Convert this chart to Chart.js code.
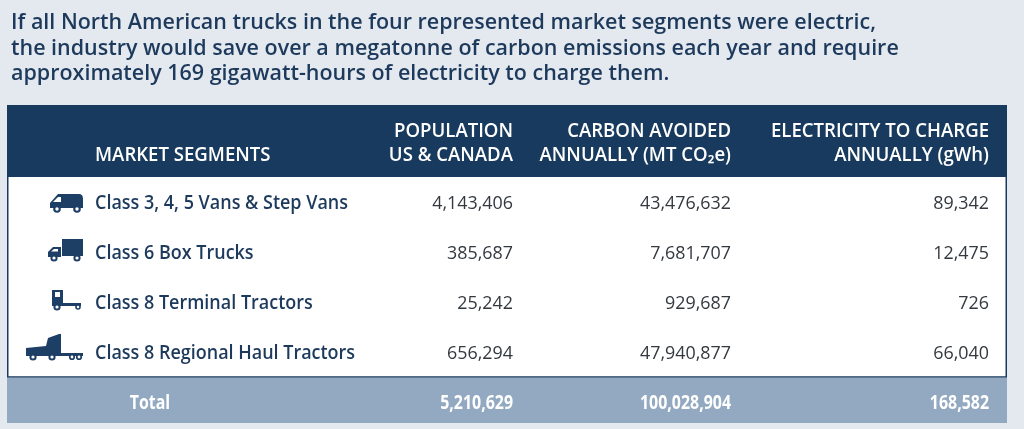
<!DOCTYPE html>
<html>
<head>
<meta charset="utf-8">
<script src="https://cdn.jsdelivr.net/npm/chart.js@4.4.1/dist/chart.umd.min.js"></script>
<style>
  html, body { margin: 0; padding: 0; background: #e4e9ef; }
  canvas { display: block; }
</style>
</head>
<body>
<canvas id="table" width="1024" height="429"></canvas>
<script>
// ---- data ----
const titleLines = [
  "If all North American trucks in the four represented market segments were electric,",
  "the industry would save over a megatonne of carbon emissions each year and require",
  "approximately 169 gigawatt-hours of electricity to charge them."
];
const segments = [
  "Class 3, 4, 5 Vans & Step Vans",
  "Class 6 Box Trucks",
  "Class 8 Terminal Tractors",
  "Class 8 Regional Haul Tractors"
];
const segmentHeader = "MARKET SEGMENTS";
const columnHeaders = [
  ["POPULATION", "US & CANADA"],
  ["CARBON AVOIDED", "ANNUALLY (MT CO\u2082e)"],
  ["ELECTRICITY TO CHARGE", "ANNUALLY (gWh)"]
];
const population = [4143406, 385687, 25242, 656294];
const carbonAvoided = [43476632, 7681707, 929687, 47940877];
const electricity = [89342, 12475, 726, 66040];
const totals = [5210629, 100028904, 168582];
const totalLabel = "Total";

// ---- layout / style ----
const NAVY = "#173a5e";
const TEXT_NAVY = "#1d3a5c";
const NUM_GREY = "#33393f";
const TOTAL_BG = "#93a9c1";
const PAGE_BG = "#e4e9ef";
const ICON = "#1d3f66";
// x scale runs 0..100 across the table; anchors for the text columns
const labelX = 8.8;
const colX = [50.6, 72.4, 98.2];   // right edges of the number columns
const iconRightX = 7.6;
// y scale: body row i is centred on i, header above -0.5, total row centred on 4
const HEAD_TOP = -1.94, BODY_TOP = -0.5, BODY_BOTTOM = 3.5, TABLE_BOTTOM = 4.42;

const FONT = "'Open Sans', 'Noto Sans', sans-serif";
const fonts = {
  title: "600 22px " + FONT,
  head: "600 19px " + FONT,
  label: "600 20px " + FONT,
  num: "400 19px " + FONT,
  total: "700 19px " + FONT
};

// squeeze factors so the wider fallback font matches the picture's widths
const squeeze = {};
function fit(ctx, key, sample, width) {
  ctx.save();
  ctx.font = fonts[key];
  squeeze[key] = width / ctx.measureText(sample).width;
  ctx.restore();
}

function text(ctx, s, x, y, key, color, align) {
  ctx.save();
  ctx.font = fonts[key];
  ctx.fillStyle = color;
  ctx.textBaseline = "alphabetic";
  ctx.textAlign = align;
  ctx.translate(x, y);
  ctx.scale(squeeze[key], 1);
  ctx.fillText(s, 0, 0);
  ctx.restore();
}

function wheel(ctx, x, y, r) {
  ctx.fillStyle = ICON;
  ctx.beginPath(); ctx.arc(x, y, r, 0, Math.PI * 2); ctx.fill();
  ctx.fillStyle = "#ffffff";
  ctx.beginPath(); ctx.arc(x, y, r * 0.45, 0, Math.PI * 2); ctx.fill();
}

// small vehicle pictograms, drawn relative to the icon's right edge and row centre
function drawIcon(ctx, kind, r, c) {
  ctx.save();
  ctx.fillStyle = ICON;
  if (kind === 0) {            // van
    ctx.beginPath();
    ctx.moveTo(r - 33, c + 6);
    ctx.lineTo(r - 33, c + 1);
    ctx.lineTo(r - 25, c - 8);
    ctx.lineTo(r - 4, c - 8);
    ctx.quadraticCurveTo(r, c - 8, r, c - 3);
    ctx.lineTo(r, c + 6);
    ctx.closePath();
    ctx.fill();
    ctx.fillStyle = "#ffffff";
    ctx.beginPath();
    ctx.moveTo(r - 30, c);
    ctx.lineTo(r - 25, c - 5);
    ctx.lineTo(r - 22, c - 5);
    ctx.lineTo(r - 22, c);
    ctx.closePath();
    ctx.fill();
    wheel(ctx, r - 26, c + 7, 3.8);
    wheel(ctx, r - 6, c + 7, 3.8);
  } else if (kind === 1) {     // box truck
    ctx.fillRect(r - 21, c - 13, 21, 17);
    ctx.beginPath();
    ctx.moveTo(r - 22, c + 5);
    ctx.lineTo(r - 35, c + 5);
    ctx.lineTo(r - 35, c);
    ctx.lineTo(r - 30, c - 5);
    ctx.lineTo(r - 22, c - 5);
    ctx.closePath();
    ctx.fill();
    ctx.fillStyle = "#ffffff";
    ctx.beginPath();
    ctx.moveTo(r - 32, c - 0.5);
    ctx.lineTo(r - 29, c - 3);
    ctx.lineTo(r - 25, c - 3);
    ctx.lineTo(r - 25, c - 0.5);
    ctx.closePath();
    ctx.fill();
    wheel(ctx, r - 29, c + 6, 3.6);
    wheel(ctx, r - 6, c + 6, 3.6);
  } else if (kind === 2) {     // terminal tractor
    ctx.fillRect(r - 31, c - 12, 11, 16);
    ctx.fillRect(r - 21, c + 1, 19, 3);
    ctx.fillStyle = "#ffffff";
    ctx.fillRect(r - 28, c - 10, 5, 5);
    wheel(ctx, r - 26, c + 5, 3.6);
    wheel(ctx, r - 5, c + 5, 2.8);
  } else {                     // regional haul tractor
    ctx.beginPath();
    ctx.moveTo(r - 57, c + 4);
    ctx.lineTo(r - 57, c - 4);
    ctx.lineTo(r - 37, c - 6);
    ctx.lineTo(r - 35, c - 14);
    ctx.lineTo(r - 24, c - 18);
    ctx.lineTo(r - 22, c - 18);
    ctx.lineTo(r - 22, c + 1);
    ctx.lineTo(r, c + 1);
    ctx.lineTo(r, c + 4);
    ctx.closePath();
    ctx.fill();
    wheel(ctx, r - 50, c + 5, 3.6);
    wheel(ctx, r - 31, c + 5, 3.6);
    wheel(ctx, r - 11, c + 5, 3.1);
    wheel(ctx, r - 4, c + 5, 3.1);
  }
  ctx.restore();
}

const tablePlugin = {
  id: "tablePlugin",
  beforeDraw(chart) {
    const { ctx, chartArea: a, scales: { x, y } } = chart;
    fit(ctx, "title", titleLines[0], 865);
    fit(ctx, "head", columnHeaders[2][0], 218);
    fit(ctx, "label", segments[0], 253);
    fit(ctx, "num", carbonAvoided[0].toLocaleString("en-US"), 91);
    fit(ctx, "total", totals[1].toLocaleString("en-US"), 91);

    ctx.save();
    ctx.fillStyle = PAGE_BG;
    ctx.fillRect(0, 0, chart.width, chart.height);

    // headline
    titleLines.forEach((line, i) => text(ctx, line, 11, 29 + i * 25.7, "title", TEXT_NAVY, "left"));

    const headTop = y.getPixelForValue(HEAD_TOP);
    const bodyTop = y.getPixelForValue(BODY_TOP);
    const bodyBottom = y.getPixelForValue(BODY_BOTTOM);
    const tableBottom = y.getPixelForValue(TABLE_BOTTOM);

    // header band
    ctx.fillStyle = NAVY;
    ctx.fillRect(a.left, headTop, a.right - a.left, bodyTop - headTop);
    // white body with dark frame
    ctx.fillStyle = "#ffffff";
    ctx.fillRect(a.left, bodyTop, a.right - a.left, bodyBottom - bodyTop);
    ctx.strokeStyle = NAVY;
    ctx.lineWidth = 1.5;
    ctx.beginPath();
    ctx.moveTo(a.left + 0.75, bodyTop);
    ctx.lineTo(a.left + 0.75, bodyBottom);
    ctx.lineTo(a.right - 0.75, bodyBottom);
    ctx.lineTo(a.right - 0.75, bodyTop);
    ctx.stroke();
    // total band
    ctx.fillStyle = TOTAL_BG;
    ctx.fillRect(a.left, bodyBottom + 0.75, a.right - a.left, tableBottom - bodyBottom - 0.75);

    // header texts
    const line2 = bodyTop - 16;
    text(ctx, segmentHeader, x.getPixelForValue(labelX), line2, "head", "#ffffff", "left");
    columnHeaders.forEach((h, k) => {
      const px = x.getPixelForValue(colX[k]);
      text(ctx, h[0], px, line2 - 24, "head", "#ffffff", "right");
      text(ctx, h[1], px, line2, "head", "#ffffff", "right");
    });

    // segment labels and pictograms
    segments.forEach((s, i) => {
      const cy = y.getPixelForValue(i);
      drawIcon(ctx, i, x.getPixelForValue(iconRightX), cy);
      text(ctx, s, x.getPixelForValue(labelX), cy + 7, "label", TEXT_NAVY, "left");
    });
    text(ctx, totalLabel, 150, y.getPixelForValue(segments.length) + 7, "total", "#ffffff", "center");
    ctx.restore();
  },
  afterDatasetsDraw(chart) {
    const { ctx } = chart;
    chart.data.datasets.forEach((ds, k) => {
      chart.getDatasetMeta(k).data.forEach((el, i) => {
        const raw = ds.data[i];
        const isTotal = raw.y === segments.length;
        text(ctx, raw.v.toLocaleString("en-US"), el.x, el.y + 7,
          isTotal ? "total" : "num", isTotal ? "#ffffff" : NUM_GREY, "right");
      });
    });
  }
};

function column(values, total, k) {
  const pts = values.map((v, i) => ({ x: colX[k], y: i, v: v }));
  pts.push({ x: colX[k], y: segments.length, v: total });
  return pts;
}

new Chart(document.getElementById("table"), {
  type: "scatter",
  data: {
    datasets: [
      { label: "Population US & Canada", data: column(population, totals[0], 0) },
      { label: "Carbon avoided annually", data: column(carbonAvoided, totals[1], 1) },
      { label: "Electricity to charge annually", data: column(electricity, totals[2], 2) }
    ]
  },
  options: {
    responsive: false,
    animation: false,
    events: [],
    elements: { point: { radius: 0, hoverRadius: 0 } },
    layout: { padding: { left: 7, right: 17, top: 105, bottom: 6 } },
    scales: {
      x: { type: "linear", min: 0, max: 100, display: false },
      y: { type: "linear", reverse: true, min: HEAD_TOP, max: TABLE_BOTTOM, display: false }
    },
    plugins: {
      legend: { display: false },
      tooltip: { enabled: false }
    }
  },
  plugins: [tablePlugin]
});
</script>
</body>
</html>
